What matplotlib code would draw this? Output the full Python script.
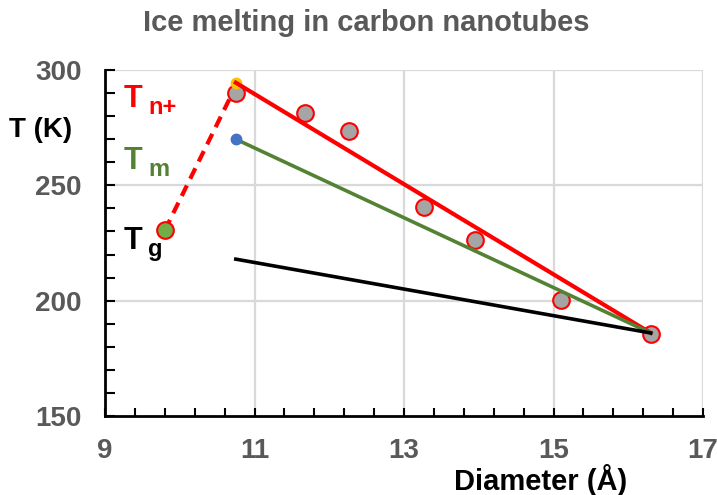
import matplotlib
matplotlib.use("Agg")
import matplotlib.pyplot as plt
from matplotlib.ticker import FixedLocator

plt.rcParams['font.family'] = ['Liberation Sans', 'DejaVu Sans']

# Data
diam_pts = [10.75, 11.67, 12.27, 13.27, 13.95, 15.1, 16.3]
tn_pts = [290, 281.5, 273.5, 240.5, 226.5, 200.5, 185.5]

tn_line_x = [10.75, 16.3]
tn_line_y = [294.5, 186]
tm_line_x = [10.75, 16.3]
tm_line_y = [270, 186]
tg_line_x = [10.75, 16.3]
tg_line_y = [218, 186]
dash_x = [9.8, 10.75]
dash_y = [230.5, 293]

tg_pt = (9.8, 230.5)
yellow_pt = (10.75, 294.5)
blue_pt = (10.75, 270)

x_major = [9, 11, 13, 15, 17]
y_major = [150, 200, 250, 300]

fig = plt.figure(figsize=(7.17, 4.95), dpi=100)
ax = fig.add_axes([105/717, 1-416/495, (703-105)/717, (416-70)/495])

ax.set_xlim(9, 17)
ax.set_ylim(150, 300)

grid_c = '#d9d9d9'
for gx in x_major[1:]:
    ax.axvline(gx, color=grid_c, lw=1.6, zorder=0)
for gy in y_major[1:]:
    ax.axhline(gy, color=grid_c, lw=1.6, zorder=0)

ax.plot(diam_pts, tn_pts, 'o', mfc='#a5a5a5', mec='#ff0000', mew=1.5, ms=12, zorder=4)
ax.plot([tg_pt[0]], [tg_pt[1]], 'o', mfc='#70ad47', mec='#ff0000', mew=1.5, ms=12, zorder=4)

ax.plot(tn_line_x, tn_line_y, color='#ff0000', lw=3, zorder=5)
ax.plot(tm_line_x, tm_line_y, color='#548235', lw=2.6, zorder=5)
ax.plot(tg_line_x, tg_line_y, color='black', lw=2.6, zorder=5)
ax.plot(dash_x, dash_y, color='#ff0000', lw=3, ls=(0, (2.8, 1.8)), zorder=3)

ax.plot([yellow_pt[0]], [yellow_pt[1]], 'o', color='#ffc000', ms=7.5, zorder=4.5)
ax.plot([blue_pt[0]], [blue_pt[1]], 'o', color='#4472c4', ms=7.5, zorder=6)

for s in ['top', 'right']:
    ax.spines[s].set_visible(False)
for s in ['left', 'bottom']:
    ax.spines[s].set_linewidth(2)
    ax.spines[s].set_color('black')
    ax.spines[s].set_zorder(7)

ax.xaxis.set_major_locator(FixedLocator(x_major))
ax.xaxis.set_minor_locator(FixedLocator([9 + 0.4 * k for k in range(21)]))
ax.yaxis.set_major_locator(FixedLocator(y_major))
ax.yaxis.set_minor_locator(FixedLocator(list(range(150, 301, 10))))
ax.tick_params(which='both', direction='in', color='black', width=1.5)
ax.tick_params(which='major', labelsize=20, labelcolor='#595959')
ax.tick_params(axis='y', which='major', length=7, pad=17)
ax.tick_params(axis='y', which='minor', length=7)
ax.tick_params(axis='x', which='major', length=6, pad=16)
ax.tick_params(axis='x', which='minor', length=6)
for lab in ax.get_xticklabels() + ax.get_yticklabels():
    lab.set_fontweight('bold')

fig.text(366/717, 1-23/495, 'Ice melting in carbon nanotubes', ha='center', va='center',
         fontsize=21, fontweight='bold', color='#595959')
fig.text(541/717, 1-480/495, 'Diameter (Å)', ha='center', va='center',
         fontsize=21, fontweight='bold', color='black')
fig.text(41/717, 1-130/495, 'T (K)', ha='center', va='center',
         fontsize=20, fontweight='bold', color='black')

def tlabel(xp, yp, main, sub, color):
    fig.text(xp/717, 1-yp/495, main, ha='left', va='baseline', fontsize=22,
             fontweight='bold', color=color)
    fig.text((xp+24)/717, 1-(yp+7)/495, sub, ha='left', va='baseline', fontsize=17,
             fontweight='bold', color=color)

tlabel(124, 107, 'T', 'n+', '#ff0000')
tlabel(124, 169, 'T', 'm', '#548235')
tlabel(124, 249, 'T', 'g', 'black')

fig.savefig('out.png', dpi=100)
